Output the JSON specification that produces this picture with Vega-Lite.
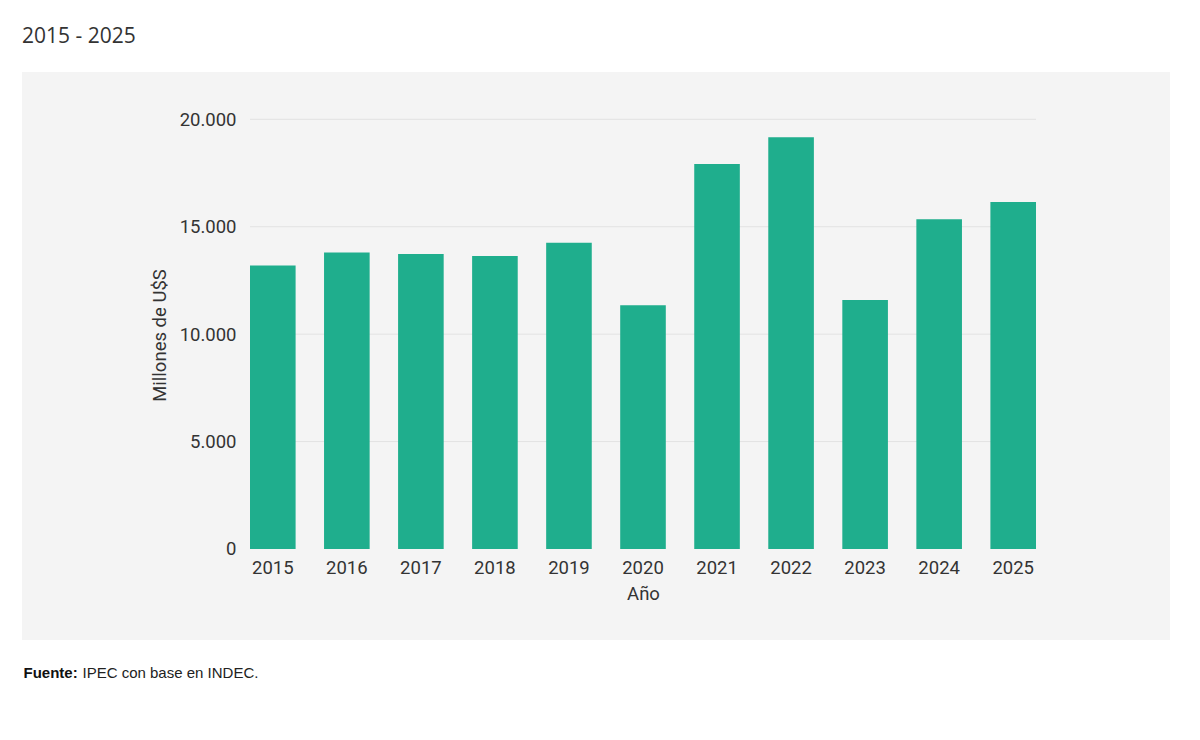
{
  "$schema": "https://vega.github.io/schema/vega-lite/v6.json",
  "width": 1148,
  "height": 568,
  "autosize": {"type": "none"},
  "padding": {"left": 22, "top": 72, "right": 30, "bottom": 100},
  "background": "white",
  "config": {
    "view": {"fill": "#f4f4f4", "stroke": null},
    "font": "Roboto",
    "axis": {
      "labelFont": "Roboto",
      "titleFont": "Roboto",
      "labelFontSize": 18.5,
      "titleFontSize": 18.5,
      "titleFontWeight": "normal",
      "labelColor": "#333333",
      "titleColor": "#333333",
      "ticks": false,
      "domain": false,
      "grid": false
    }
  },
  "title": {
    "text": "2015 - 2025",
    "anchor": "start",
    "frame": "group",
    "font": "Open Sans",
    "fontSize": 21,
    "fontWeight": "normal",
    "color": "#333333",
    "offset": 25
  },
  "data": {
    "values": [
      {"year": "2015", "value": 13190},
      {"year": "2016", "value": 13795},
      {"year": "2017", "value": 13734},
      {"year": "2018", "value": 13641},
      {"year": "2019", "value": 14260},
      {"year": "2020", "value": 11346},
      {"year": "2021", "value": 17924},
      {"year": "2022", "value": 19167},
      {"year": "2023", "value": 11592},
      {"year": "2024", "value": 15349},
      {"year": "2025", "value": 16155}
    ]
  },
  "layer": [
    {
      "data": {"values": [{"v": 5000}, {"v": 10000}, {"v": 15000}, {"v": 20000}]},
      "mark": {"type": "rule", "color": "#e2e2e2", "strokeWidth": 1},
      "encoding": {
        "x": {
          "datum": "2015",
          "type": "nominal",
          "bandPosition": 0,
          "axis": {
            "orient": "bottom",
            "labels": false,
            "title": "Fuente:",
            "titleFont": "Liberation Sans",
            "titleFontSize": 15,
            "titleFontWeight": "bold",
            "titleColor": "#111111",
            "titleX": 1,
            "titleY": 37,
            "titleAlign": "left",
            "titleBaseline": "alphabetic"
          }
        },
        "x2": {"datum": "2025", "bandPosition": 1},
        "y": {
          "field": "v",
          "type": "quantitative",
          "axis": {
            "orient": "left",
            "labels": false,
            "title": "IPEC con base en INDEC.",
            "titleAngle": 0,
            "titleFont": "Liberation Sans",
            "titleFontSize": 15,
            "titleColor": "#222222",
            "titleX": 60,
            "titleY": 605,
            "titleAlign": "left",
            "titleBaseline": "alphabetic"
          }
        }
      }
    },
    {
      "mark": {"type": "bar", "color": "#1fae8d"},
      "encoding": {
        "x": {
          "field": "year",
          "type": "nominal",
          "scale": {"range": [228, 1014], "paddingInner": 0.384, "paddingOuter": 0},
          "axis": {
            "orient": "bottom",
            "offset": -91,
            "labelAngle": 0,
            "labelPadding": 9,
            "titlePadding": 8,
            "title": "Año"
          }
        },
        "y": {
          "field": "value",
          "type": "quantitative",
          "scale": {"domain": [-4236, 22202], "nice": false, "zero": false},
          "axis": {
            "orient": "left",
            "offset": -228,
            "values": [0, 5000, 10000, 15000, 20000],
            "labelExpr": "replace(format(datum.value, ','), ',', '.')",
            "labelPadding": 14,
            "title": "Millones de U$S",
            "titleAngle": -90,
            "titleX": -85,
            "titleY": 263,
            "titleAlign": "center",
            "titleBaseline": "alphabetic"
          }
        }
      }
    }
  ],
  "resolve": {"axis": {"x": "independent", "y": "independent"}}
}
